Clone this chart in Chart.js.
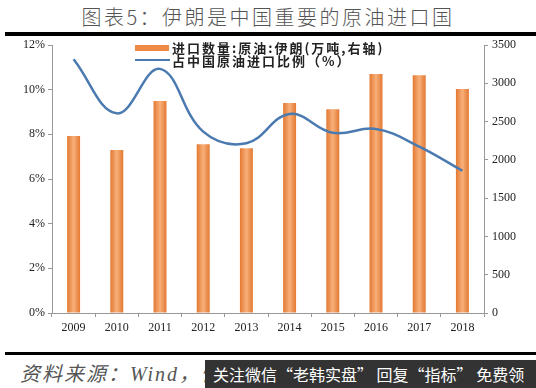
<!DOCTYPE html>
<html><head><meta charset="utf-8">
<script src="https://cdn.jsdelivr.net/npm/chart.js@4/dist/chart.umd.min.js"></script>
<style>
html,body{margin:0;padding:0;background:#fff;width:536px;height:388px;overflow:hidden;position:relative;}
#title{position:absolute;left:0;top:2px;width:536px;text-align:center;font:300 20px "Noto Sans CJK SC";letter-spacing:2.5px;color:#555;}
.rule{position:absolute;left:5px;right:0;background:#000;}
#wrap{position:absolute;left:0;top:0;width:536px;height:345px;}
.leg{position:absolute;font:bold 13px "Noto Sans CJK SC";color:#222;white-space:nowrap;letter-spacing:2px;}
#src{position:absolute;left:20px;top:358px;font:italic 20px "Liberation Serif","Noto Sans CJK SC";color:#555;letter-spacing:2px;}
#wm{position:absolute;left:205px;top:360px;width:331px;height:28px;background:#333;color:#fff;font:16px "Noto Sans CJK SC";line-height:28px;padding-left:8px;box-sizing:border-box;white-space:nowrap;overflow:hidden;}
</style></head>
<body>
<div id="title">图表5：伊朗是中国重要的原油进口国</div>
<div class="rule" style="top:32px;height:4px"></div>
<div id="wrap"><canvas id="c" width="536" height="345"></canvas></div>
<div class="leg" style="left:135px;top:45px;width:34px;height:6px;background:#EF8A45"></div>
<div class="leg" style="left:172px;top:38px;">进口数量:原油:伊朗(万吨,右轴)</div>
<div class="leg" style="left:135px;top:59px;width:35px;height:2px;background:#4A7AB0"></div>
<div class="leg" style="left:172px;top:51px;">占中国原油进口比例（%）</div>
<div class="rule" style="top:352px;height:3px"></div>
<div id="src">资料来源：Wind，恒大研究院</div>
<div id="wm">关注微信“老韩实盘” 回复“指标” 免费领</div>
<script>
const years = ['2009','2010','2011','2012','2013','2014','2015','2016','2017','2018'];
const importVolume = [2312, 2129, 2769, 2203, 2151, 2743, 2660, 3121, 3104, 2925];
const shareOfImports = [11.36, 8.94, 10.93, 8.12, 7.6, 8.91, 8.07, 8.24, 7.45, 6.37];
const leftTicks = [0,2,4,6,8,10,12];
const rightTicks = [0,500,1000,1500,2000,2500,3000,3500];

function barFill(ctx){
  const chart = ctx.chart;
  const xs = chart.scales && chart.scales.x;
  if(!xs || !chart.chartArea || ctx.dataIndex===undefined) return '#EF8A45';
  const cx = xs.getPixelForValue(ctx.dataIndex);
  const g = chart.ctx.createLinearGradient(cx-7,0,cx+7,0);
  g.addColorStop(0,'#E2742C');
  g.addColorStop(0.5,'#F8B07A');
  g.addColorStop(1,'#E2742C');
  return g;
}
const tickFont = {family:'Liberation Serif', size:12};
new Chart(document.getElementById('c'),{
  data:{labels:years,datasets:[
    {type:'line',label:'占中国原油进口比例（%）',data:shareOfImports,yAxisID:'y',borderColor:'#4A7AB0',borderWidth:2.5,pointRadius:0,tension:0.4,order:0},
    {type:'bar',label:'进口数量:原油:伊朗(万吨,右轴)',data:importVolume,yAxisID:'y1',backgroundColor:barFill,categoryPercentage:1,barPercentage:0.3,order:1}
  ]},
  options:{
    responsive:false,animation:false,
    layout:{padding:{top:45,left:0,right:0,bottom:0}},
    plugins:{legend:{display:false},tooltip:{enabled:false}},
    scales:{
      x:{grid:{drawOnChartArea:false,offset:true,tickLength:4,color:'#999'},border:{color:'#999'},
         ticks:{font:tickFont,color:'#222',padding:4,maxRotation:0},
         afterFit(s){s.height=32;}},
      y:{position:'left',min:0,max:12,afterBuildTicks(s){s.ticks=leftTicks.map(v=>({value:v}));},
         grid:{drawOnChartArea:false,tickLength:4,color:'#999'},border:{color:'#999'},
         ticks:{font:tickFont,color:'#222',padding:3,callback:v=>v+'%'},
         afterFit(s){s.width=52;}},
      y1:{position:'right',min:0,max:3500,afterBuildTicks(s){s.ticks=rightTicks.map(v=>({value:v}));},
         grid:{drawOnChartArea:false,tickLength:4,color:'#999'},border:{color:'#999'},
         ticks:{font:tickFont,color:'#222',padding:4,callback:v=>String(v)},
         afterFit(s){s.width=52;}}
    }
  }
});
</script>
</body></html>
